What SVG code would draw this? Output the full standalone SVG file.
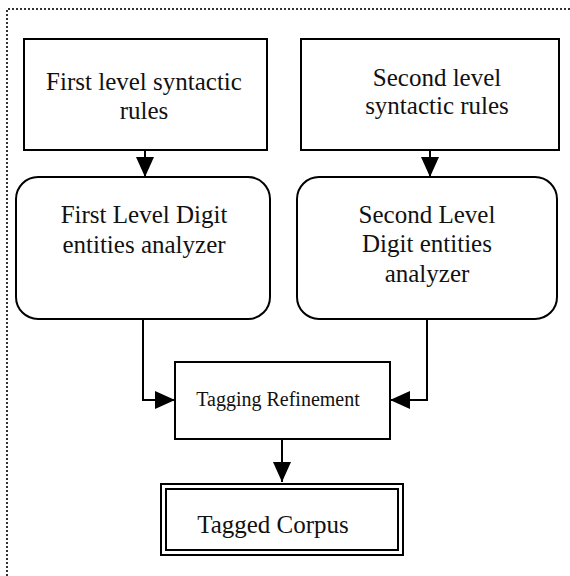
<svg xmlns="http://www.w3.org/2000/svg" width="570" height="576" viewBox="0 0 570 576">
<defs>
<style>
.box{fill:#fff;stroke:#000;stroke-width:2}
.t{font-family:"Liberation Serif","Times New Roman",serif;font-size:25px;fill:#111;text-anchor:middle}
.ts{font-size:20px}
.c{fill:none;stroke:#000;stroke-width:2}
.border{fill:none;stroke:#333;stroke-width:2;stroke-dasharray:2 2}
</style>
<marker id="ah" viewBox="0 0 20 18" refX="20" refY="9" markerWidth="20" markerHeight="18" markerUnits="userSpaceOnUse" orient="auto">
<path d="M0,0 L20,9 L0,18 Z" fill="#000"/>
</marker>
</defs>
<rect width="570" height="576" fill="#fff"/>
<path class="border" d="M7,576 V9 H570"/>
<g id="first-rules">
<rect class="box" x="24" y="39" width="243" height="111"/>
<text class="t" x="144" y="90">First level syntactic</text>
<text class="t" x="144" y="119">rules</text>
</g>
<g id="second-rules">
<rect class="box" x="301" y="39" width="258" height="111"/>
<text class="t" x="437" y="86">Second level</text>
<text class="t" x="437" y="114">syntactic rules</text>
</g>
<g id="first-analyzer">
<rect class="box" x="16" y="177" width="254" height="142" rx="22"/>
<text class="t" x="144" y="223">First Level Digit</text>
<text class="t" x="144" y="253">entities analyzer</text>
</g>
<g id="second-analyzer">
<rect class="box" x="297" y="177" width="260" height="142" rx="22"/>
<text class="t" x="427" y="223">Second Level</text>
<text class="t" x="427" y="252">Digit entities</text>
<text class="t" x="427" y="282">analyzer</text>
</g>
<g id="tagging">
<rect class="box" x="175" y="362" width="215" height="77"/>
<text class="t ts" x="278" y="406">Tagging Refinement</text>
</g>
<g id="corpus">
<rect class="box" x="161" y="484" width="242" height="71"/>
<rect class="box" x="166" y="489" width="232" height="61"/>
<text class="t" x="273" y="533">Tagged Corpus</text>
</g>
<g id="connectors">
<path class="c" d="M145,150 V177" marker-end="url(#ah)"/>
<path class="c" d="M430,150 V177" marker-end="url(#ah)"/>
<path class="c" d="M143,319 V400 H175" marker-end="url(#ah)"/>
<path class="c" d="M427,319 V400 H390" marker-end="url(#ah)"/>
<path class="c" d="M282,439 V482" marker-end="url(#ah)"/>
</g>
</svg>
